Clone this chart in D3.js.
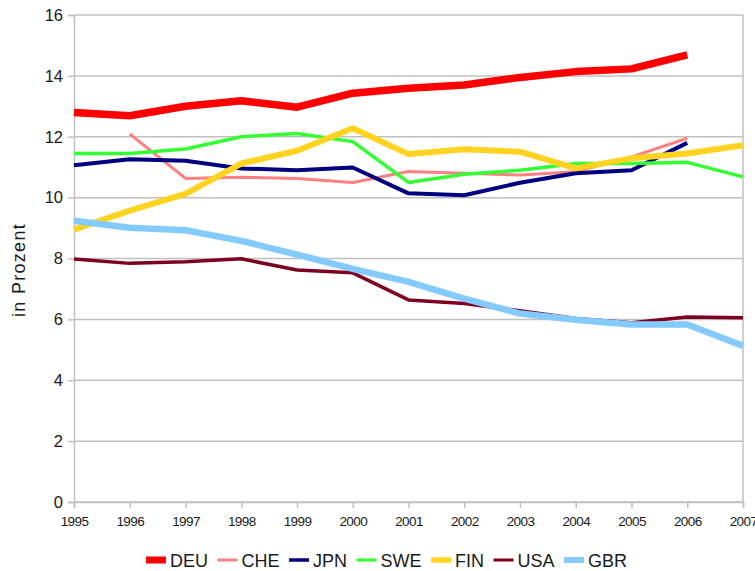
<!DOCTYPE html>
<html>
<head>
<meta charset="utf-8">
<script src="https://cdn.jsdelivr.net/npm/d3@7"></script>
<style>
  body { margin: 0; background: #fff; }
  svg { display: block; font-family: "Liberation Sans", Arial, sans-serif; }
</style>
</head>
<body>
<div id="chart"></div>
<script>
'use strict';

// Data
const years = [1995, 1996, 1997, 1998, 1999, 2000, 2001, 2002, 2003, 2004, 2005, 2006, 2007];
const deu = [12.80, 12.69, 13.00, 13.18, 12.97, 13.43, 13.59, 13.70, 13.95, 14.14, 14.23, 14.69, null];
const che = [null, 12.09, 10.63, 10.67, 10.63, 10.50, 10.86, 10.80, 10.74, 10.85, 11.34, 11.95, null];
const jpn = [11.06, 11.26, 11.21, 10.96, 10.90, 10.99, 10.14, 10.08, 10.49, 10.80, 10.90, 11.80, null];
const swe = [11.45, 11.45, 11.60, 12.00, 12.11, 11.84, 10.50, 10.77, 10.90, 11.12, 11.12, 11.16, 10.68];
const fin = [8.95, 9.57, 10.12, 11.12, 11.54, 12.28, 11.43, 11.59, 11.51, 10.96, 11.29, 11.45, 11.72];
const usa = [7.98, 7.84, 7.89, 7.99, 7.62, 7.53, 6.64, 6.52, 6.28, 6.03, 5.89, 6.08, 6.05];
const gbr = [9.24, 9.01, 8.93, 8.58, 8.13, 7.66, 7.23, 6.68, 6.19, 5.99, 5.83, 5.83, 5.13];
const yTicks = [0, 2, 4, 6, 8, 10, 12, 14, 16];

const series = [
    {name: 'DEU', values: deu, color: '#ff0000', width: 7.5},
    {name: 'CHE', values: che, color: '#ff8080', width: 3},
    {name: 'JPN', values: jpn, color: '#000080', width: 4},
    {name: 'SWE', values: swe, color: '#33ff33', width: 3.5},
    {name: 'FIN', values: fin, color: '#ffd320', width: 6},
    {name: 'USA', values: usa, color: '#7e0021', width: 3.5},
    {name: 'GBR', values: gbr, color: '#83caff', width: 6.5}
];

const W = 755, H = 571;
const plot = {left: 74, right: 743, top: 15, bottom: 502};
const gridColor = '#c0c0c0';

const svg = d3.select('#chart')
    .append('svg')
    .attr('width', W)
    .attr('height', H);

const xScale = d3.scaleLinear().domain([1995, 2007]).range([plot.left, plot.right]);
const yScale = d3.scaleLinear().domain([0, 16]).range([plot.bottom, plot.top]);

// horizontal grid
svg.append('g')
    .selectAll('line')
    .data(yTicks)
    .join('line')
    .attr('x1', plot.left)
    .attr('x2', plot.right)
    .attr('y1', d => yScale(d))
    .attr('y2', d => yScale(d))
    .attr('stroke', gridColor)
    .attr('stroke-width', 1.5);

// right border
svg.append('line')
    .attr('x1', plot.right).attr('x2', plot.right)
    .attr('y1', plot.top).attr('y2', plot.bottom)
    .attr('stroke', gridColor)
    .attr('stroke-width', 1.5);

// y axis
svg.append('g')
    .attr('transform', `translate(${plot.left},0)`)
    .call(d3.axisLeft(yScale).tickValues(yTicks).tickSize(6).tickPadding(5))
    .call(g => g.selectAll('.domain, line').attr('stroke', gridColor).attr('stroke-width', 1.5))
    .call(g => g.selectAll('text')
        .attr('fill', '#1a1a1a')
        .style('font-size', '16.5px'));

// x axis
svg.append('g')
    .attr('transform', `translate(0,${plot.bottom})`)
    .call(d3.axisBottom(xScale).tickValues(years).tickFormat(d3.format('d')).tickSize(6).tickPadding(8))
    .call(g => g.selectAll('.domain, line').attr('stroke', gridColor).attr('stroke-width', 1.5))
    .call(g => g.selectAll('text')
        .attr('fill', '#1a1a1a')
        .style('font-size', '13.5px')
        .style('letter-spacing', '-0.6px'));

// y axis title
svg.append('text')
    .attr('transform', 'translate(25,270) rotate(-90)')
    .attr('text-anchor', 'middle')
    .attr('fill', '#1a1a1a')
    .style('font-size', '18px')
    .style('letter-spacing', '1.3px')
    .text('in Prozent');

// lines
const line = d3.line()
    .defined(d => d.v !== null)
    .x(d => xScale(d.year))
    .y(d => yScale(d.v));

svg.append('g')
    .selectAll('path')
    .data(series)
    .join('path')
    .attr('fill', 'none')
    .attr('stroke', d => d.color)
    .attr('stroke-width', d => d.width)
    .attr('stroke-linejoin', 'round')
    .attr('d', d => line(years.map((year, i) => ({year, v: d.values[i]}))));

// legend
const legend = svg.append('g');
let lx = 146;
series.forEach(s => {
    legend.append('line')
        .attr('x1', lx).attr('x2', lx + 20)
        .attr('y1', 560).attr('y2', 560)
        .attr('stroke', s.color)
        .attr('stroke-width', Math.max(s.width - 0.5, 3));
    const t = legend.append('text')
        .attr('x', lx + 24)
        .attr('y', 566.5)
        .attr('fill', '#1a1a1a')
        .style('font-size', '18px')
        .text(s.name);
    lx += 24 + t.node().getComputedTextLength() + 9.5;
});
</script>
</body>
</html>
